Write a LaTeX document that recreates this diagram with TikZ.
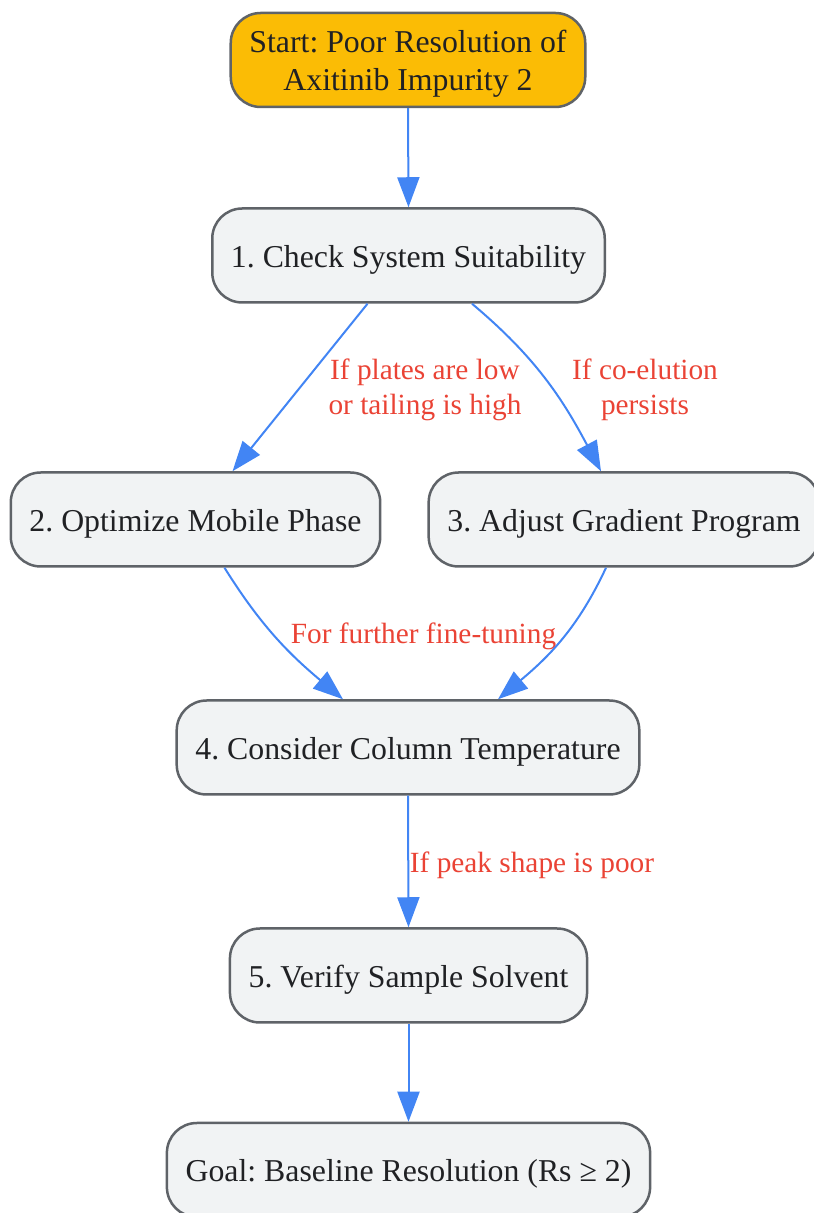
\documentclass[tikz,border=0pt]{standalone}
\usepackage{fontspec}
\setmainfont{Liberation Serif}
\usepackage{xcolor}
\usetikzlibrary{arrows.meta, calc, positioning}
\definecolor{matyellow}{HTML}{FBBC05}
\definecolor{matgrey}{HTML}{F1F3F4}
\definecolor{matgrey700}{HTML}{5F6368}
\definecolor{matblue}{HTML}{4285F4}
\definecolor{matred}{HTML}{EA4335}
\definecolor{matink}{HTML}{202124}
\tikzset{
  % Graph arrow style
  garr/.style={
    line width = 2pt
    , draw=matblue
  },
  % edge label style
  glabel/.style={
    text=matred
    , inner sep=0pt
    , align=center
    , font=\fontsize{29.3}{35}\selectfont
  },
}
\tikzset{
  %process node style
  proc/.style={
    draw=matgrey700
    , fill=matgrey
    , text=matink
    , line width=2.5pt
    , anchor=center
    , align=center
    , rounded corners=30pt
    , inner xsep=18.7pt
    , minimum height=94pt
    , text height=30.3pt
    , text depth=6.9pt
    , font=\fontsize{31.8}{38}\selectfont
  },
  %start node style
  startproc/.style={
    proc
    , fill=matyellow
    , text height=68.5pt
  },
}

\begin{document}
\frenchspacing
\begin{tikzpicture}[x=1pt, y=1pt]
        \useasboundingbox (0,0) rectangle (814,1213);
        % process nodes
        \node[startproc] (start) at (408,1153)
          {Start: Poor Resolution of\\Axitinib Impurity 2};
        \node[proc] (suit) at (408.5,957.5) {1. Check System Suitability};
        \node[proc] (mobile) at (195.5,693.5) {2. Optimize Mobile Phase};
        \node[proc] (grad) at (624,693.5) {3. Adjust Gradient Program};
        \node[proc] (temp) at (408,465.5) {4. Consider Column Temperature};
        \node[proc] (solv) at (408.5,237.5) {5. Verify Sample Solvent};
        \node[proc] (goal) at (408.5,43) {Goal: Baseline Resolution (Rs ≥ 2)};
        % edge labels
        \node[glabel] (lplates) at (425,823) {If plates are low\\or tailing is high};
        \node[glabel] (lcoel) at (645,823) {If co-elution\\persists};
        \node[glabel] (lfine) at (423.5,576.5) {For further fine-tuning};
        \node[glabel] (lpeak) at (532,348) {If peak shape is poor};
        % arrows
        \draw[>={Triangle[length=30pt,width=22pt]},->, garr]
          ($(start.south)$)
          to
          ($(suit.north)$);
        \draw[>={Triangle[length=30pt,width=22pt]},->, garr]
          ($(suit.south)+(-41,0)$)
          to
          ($(mobile.north)+(37,0)$);
        \draw[>={Triangle[length=30pt,width=22pt]},->, garr]
          ($(suit.south)+(63.5,0)$)
          to[out=-40, in=118]
          ($(grad.north)+(-23,0)$);
        \draw[>={Triangle[length=30pt,width=22pt]},->, garr]
          ($(mobile.south)+(29,0)$)
          to[out=-58, in=140]
          ($(temp.north)+(-65,0)$);
        \draw[>={Triangle[length=30pt,width=22pt]},->, garr]
          ($(grad.south)+(-18,0)$)
          to[out=-115, in=40]
          ($(temp.north)+(90,0)$);
        \draw[>={Triangle[length=30pt,width=22pt]},->, garr]
          ($(temp.south)$)
          to
          ($(solv.north)$);
        \draw[>={Triangle[length=30pt,width=22pt]},->, garr]
          ($(solv.south)$)
          to
          ($(goal.north)$);
      \end{tikzpicture}
\end{document}
